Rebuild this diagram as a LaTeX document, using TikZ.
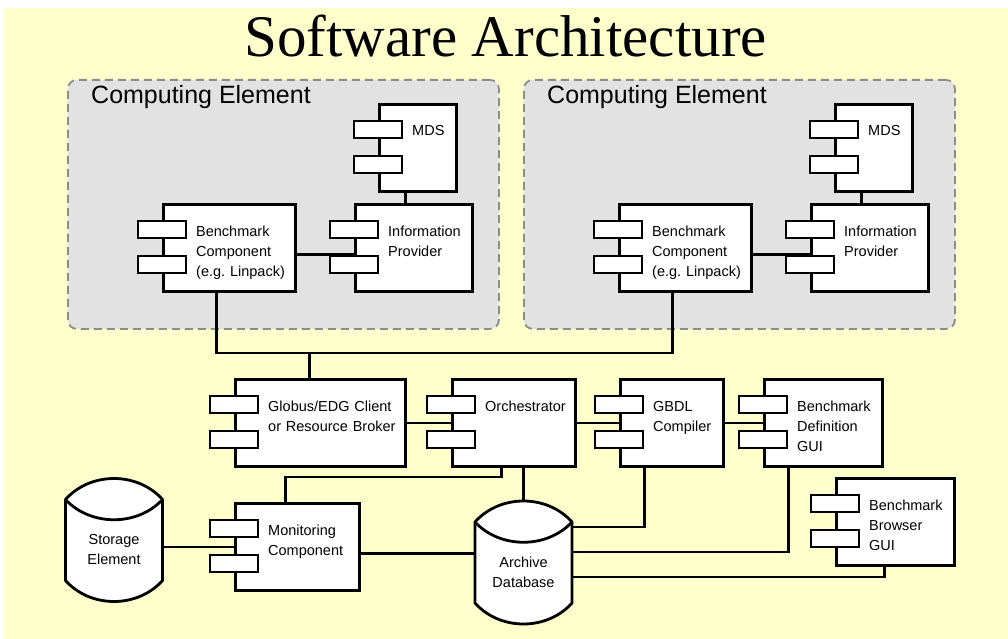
\documentclass[tikz,border=0pt]{standalone}
\usepackage{fontspec}
\setsansfont{Liberation Sans}
\newfontfamily\titlefont{Liberation Serif}
\usepackage{tikz}
\usetikzlibrary{positioning, calc}
\definecolor{paperYellow}{HTML}{FFFFCC}
\definecolor{ceGray}{HTML}{E2E2E2}
\definecolor{ceDash}{HTML}{8C8C8C}

\tikzset{
    ce/.style={draw=ceDash, fill=ceGray, dash pattern=on 8pt off 5pt, line width=1.8pt,
        rounded corners=9pt, anchor=north west, minimum width=431pt, minimum height=249pt},
    celabel/.style={anchor=base west, inner sep=0pt, font=\sffamily\fontsize{25}{30}\selectfont},
    compbox/.style={draw, fill=white, line width=2.8pt, anchor=north west, minimum height=87pt, inner sep=0pt},
    port/.style={draw, fill=white, line width=2.8pt},
    comptext/.style={anchor=base west, text width=140pt, align=left, inner sep=0pt,
        font=\sffamily\fontsize{14.5}{20}\selectfont},
    wire/.style={line width=2.3pt},
    drumnode/.style={minimum width=97pt, minimum height=123pt, inner sep=0pt},
    drumline/.style={draw, fill=white, line width=2.8pt},
    drumtext/.style={align=center, inner sep=0pt, font=\sffamily\fontsize{14.5}{20}\selectfont}
}

% component: name, top-left corner, width, text
\newcommand{\umlcomp}[4]{%
    \node[compbox, minimum width=#3] (#1) at #2 {};
    \draw[port] ($(#1.north west)+(-24,18)$) rectangle ++(48,17);
    \draw[port] ($(#1.north west)+(-24,53)$) rectangle ++(48,17);
    \node[comptext] (#1-txt) at ($(#1.north west)+(34,33)$) {#4};
}
% database drum round a node
\newcommand{\drum}[1]{%
    \draw[drumline] ($(#1.center)+(-48.5,-40.5)$) .. controls +(25,-28) and +(-25,-28) .. ($(#1.center)+(48.5,-40.5)$)
        -- ($(#1.center)+(48.5,40.5)$) .. controls +(-25,28) and +(25,28) .. ($(#1.center)+(-48.5,40.5)$) -- cycle;
    \draw[drumline] ($(#1.center)+(-48.5,-40.5)$) .. controls +(25,27) and +(-25,27) .. ($(#1.center)+(48.5,-40.5)$);
}

\begin{document}
\begin{tikzpicture}[x=1pt, y=-1pt]
    \useasboundingbox (0,0) rectangle (1008,639);
    \fill[white] (0,0) rectangle (1008,639);
    \fill[paperYellow] (4,8) rectangle (1008,639);

    \node[anchor=base, inner sep=0pt, font=\titlefont\fontsize{59}{59}\selectfont] (title) at (505.5,57) {Software Architecture};

    % computing elements
    \node[ce] (ceL) at (67,79) {};
    \node[ce] (ceR) at (523,79) {};
    \node[celabel] (ceL-txt) at ($(ceL.north west)+(24,25)$) {Computing Element};
    \node[celabel] (ceR-txt) at ($(ceR.north west)+(24,25)$) {Computing Element};

    \umlcomp{mdsL}{(378,103)}{77pt}{MDS}
    \umlcomp{ipL}{(354,203)}{117pt}{Information\\Provider}
    \umlcomp{bcL}{(162,203)}{132pt}{Benchmark\\Component\\(e.g.\ Linpack)}
    \umlcomp{mdsR}{(834,103)}{77pt}{MDS}
    \umlcomp{ipR}{(810,203)}{117pt}{Information\\Provider}
    \umlcomp{bcR}{(618,203)}{132pt}{Benchmark\\Component\\(e.g.\ Linpack)}

    % middle row
    \umlcomp{gl}{(234,378)}{170pt}{Globus/EDG Client\\or Resource Broker}
    \umlcomp{orch}{(451,378)}{123pt}{Orchestrator}
    \umlcomp{gbdl}{(619,378)}{103pt}{GBDL\\Compiler}
    \umlcomp{bdg}{(763,378)}{118pt}{Benchmark\\Definition\\GUI}
    \umlcomp{bbg}{(835,477)}{118pt}{Benchmark\\Browser\\GUI}
    \umlcomp{mon}{(234,502)}{124pt}{Monitoring\\Component}

    % storage
    \node[drumnode] (st) at (114,540) {};
    \drum{st}
    \node[drumtext] (st-txt) at ($(st.center)+(0,10)$) {Storage\\Element};
    \node[drumnode] (arch) at (523.5,562.5) {};
    \drum{arch}
    \node[drumtext] (arch-txt) at ($(arch.center)+(0,9.5)$) {Archive\\Database};

    % links inside the computing elements
    \draw[wire] ([xshift=-12.5pt]mdsL.south) -- ([xshift=-12.5pt]mdsL.south |- ipL.north);
    \draw[wire] ([xshift=-12.5pt]mdsR.south) -- ([xshift=-12.5pt]mdsR.south |- ipR.north);
    \draw[wire] ([yshift=-6.5pt]bcL.east) -- ([yshift=-6.5pt]bcL.east -| ipL.west);
    \draw[wire] ([yshift=-6.5pt]bcR.east) -- ([yshift=-6.5pt]bcR.east -| ipR.west);

    % bus to the broker
    \coordinate (bus) at (0,353);
    \draw[wire] ([xshift=-13pt]bcL.south) -- ([xshift=-13pt]bcL.south |- bus) -| ([xshift=-13pt]bcR.south);
    \draw[wire] ([xshift=-11pt]gl.north) -- ([xshift=-11pt]gl.north |- bus);

    \draw[wire] (gl.east) -- (orch.west);
    \draw[wire] (orch.east) -- (gbdl.west);
    \draw[wire] (gbdl.east) -- (bdg.west);
    \draw[wire] ([xshift=-12.5pt]orch.south) |- ($(mon.north)+(-12,-25)$) -- ([xshift=-12pt]mon.north);
    \draw[wire] (arch.north |- orch.south) -- (arch.north);

    % archive links
    \draw[wire] ([xshift=-27.5pt]gbdl.south) |- ([yshift=35.5pt]arch.east);
    \draw[wire] ([xshift=-35pt]bdg.south) |- ([yshift=10.5pt]arch.east);
    \draw[wire] ([xshift=-11pt]bbg.south) |- ([yshift=-14.5pt]arch.east);
    \draw[wire] ([yshift=-6.5pt]mon.east) -- ([yshift=-6.5pt]mon.east -| arch.west);
    \draw[wire] (mon.west) -- (mon.west -| st.east);
\end{tikzpicture}
\end{document}
